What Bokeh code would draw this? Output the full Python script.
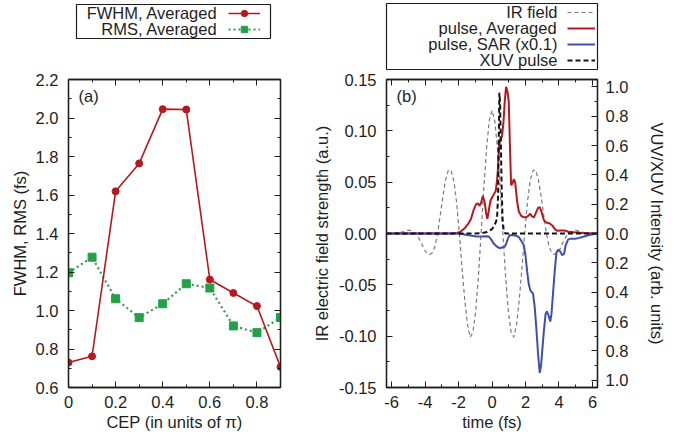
import numpy as np
from bokeh.plotting import figure
from bokeh.models import (Range1d, LinearAxis, FixedTicker, Label, Legend, LegendItem,
                          BoxAnnotation)
from bokeh.layouts import row, column
from bokeh.core.properties import value
from bokeh.embed import file_html
from bokeh.resources import INLINE

# ---------------- data: panel (a) ----------------
cep = [0.0, 0.1, 0.2, 0.3, 0.4, 0.5, 0.6, 0.7, 0.8, 0.9]
fwhm = [0.730, 0.762, 1.619, 1.764, 2.046, 2.044, 1.161, 1.091, 1.023, 0.707]
rms = [1.196, 1.277, 1.061, 0.963, 1.035, 1.139, 1.117, 0.920, 0.885, 0.963]

cep_ticks = [0.0, 0.2, 0.4, 0.6, 0.8]
cep_labels = ["0", "0.2", "0.4", "0.6", "0.8"]
cep_minor = [0.1, 0.3, 0.5, 0.7, 0.9]
dur_ticks = [0.6, 0.8, 1.0, 1.2, 1.4, 1.6, 1.8, 2.0, 2.2]
dur_labels = ["0.6", "0.8", "1.0", "1.2", "1.4", "1.6", "1.8", "2.0", "2.2"]
dur_minor = [0.7, 0.9, 1.1, 1.3, 1.5, 1.7, 1.9, 2.1]

# ---------------- data: panel (b) ----------------
ir_t = [-6.3, -5.9, -5.5, -5.2, -5.038, -4.875, -4.713, -4.55, -4.388, -4.225, -4.063, -3.9,
        -3.738, -3.575, -3.413, -3.25, -3.088, -2.925, -2.763, -2.6, -2.438, -2.275, -2.113,
        -1.95, -1.788, -1.625, -1.463, -1.3, -1.138, -0.975, -0.813, -0.65, -0.488, -0.325,
        -0.163, 0.0, 0.163, 0.325, 0.488, 0.65, 0.813, 0.975, 1.138, 1.3, 1.463, 1.625, 1.788,
        1.95, 2.113, 2.275, 2.438, 2.6, 2.763, 2.925, 3.088, 3.25, 3.413, 3.575, 3.738, 3.9,
        4.063, 4.225, 4.388, 4.55, 4.713, 4.875, 5.038, 5.2, 5.5, 5.9, 6.3]
ir_field = [0.0, 0.0, 0.001, 0.002, 0.003, 0.003, 0.002, 0.0, -0.004, -0.009, -0.015, -0.019,
            -0.0205, -0.019, -0.013, 0.0, 0.018, 0.037, 0.053, 0.062, 0.061, 0.051, 0.030,
            0.0, -0.034, -0.065, -0.089, -0.101, -0.096, -0.076, -0.042, 0.0, 0.044, 0.083,
            0.110, 0.120, 0.110, 0.083, 0.044, 0.0, -0.042, -0.076, -0.096, -0.101, -0.089,
            -0.065, -0.034, 0.0, 0.030, 0.051, 0.061, 0.062, 0.053, 0.037, 0.018, 0.0, -0.013,
            -0.019, -0.0205, -0.019, -0.015, -0.009, -0.004, 0.0, 0.002, 0.003, 0.003, 0.002,
            0.001, 0.0, 0.0]

avg_t = [-6.3, -2.5, -2.1, -1.9, -1.6, -1.4, -1.25, -1.1, -0.95, -0.85, -0.75, -0.65, -0.55,
         -0.45, -0.35, -0.28, -0.2, -0.1, 0.0, 0.1, 0.22, 0.3, 0.36, 0.42, 0.5, 0.6, 0.68, 0.76,
         0.84, 0.92, 1.0, 1.07, 1.14, 1.22, 1.3, 1.38, 1.5, 1.6, 1.75, 1.9, 2.05, 2.2, 2.28, 2.4,
         2.5, 2.62, 2.75, 2.85, 2.95, 3.1, 3.25, 3.45, 3.6, 3.75, 3.9, 4.1, 4.35, 4.55, 4.9, 5.4,
         6.3]
avg_int = [0.0, 0.0, 0.003, 0.01, 0.04, 0.07, 0.1, 0.16, 0.2, 0.205, 0.19, 0.21, 0.255, 0.22,
           0.14, 0.1, 0.15, 0.22, 0.245, 0.265, 0.29, 0.36, 0.45, 0.6, 0.64, 0.665, 0.75, 0.9,
           1.0, 0.97, 0.9, 0.6, 0.33, 0.34, 0.37, 0.35, 0.22, 0.15, 0.12, 0.11, 0.11, 0.125,
           0.135, 0.115, 0.11, 0.14, 0.175, 0.18, 0.15, 0.09, 0.075, 0.068, 0.055, 0.03, 0.018,
           0.02, 0.02, 0.012, 0.008, 0.004, 0.0]

sar_t = [-6.3, -2.2, -1.8, -1.5, -1.2, -0.9, -0.6, -0.35, -0.2, -0.05, 0.1, 0.3, 0.45, 0.6,
         0.75, 0.85, 0.95, 1.05, 1.2, 1.45, 1.6, 1.75, 1.9, 2.0, 2.1, 2.2, 2.3, 2.45, 2.55, 2.65,
         2.75, 2.85, 2.93, 3.0, 3.1, 3.2, 3.28, 3.38, 3.48, 3.55, 3.65, 3.75, 3.85, 3.95, 4.05,
         4.2, 4.3, 4.4, 4.55, 4.7, 5.0, 5.2, 5.5, 5.8, 6.3]
sar_int = [0.0, 0.0, 0.003, 0.01, 0.015, 0.02, 0.02, 0.018, 0.02, 0.04, 0.068, 0.09, 0.1, 0.095,
           0.09, 0.07, 0.035, 0.012, 0.01, 0.015, 0.025, 0.05, 0.08, 0.15, 0.26, 0.35, 0.39,
           0.41, 0.5, 0.65, 0.82, 0.95, 0.9, 0.8, 0.66, 0.55, 0.53, 0.56, 0.6, 0.55, 0.4, 0.25,
           0.13, 0.11, 0.12, 0.148, 0.14, 0.08, 0.04, 0.035, 0.035, 0.03, 0.02, 0.01, 0.0]

xuv_t = [-6.3, -1.0, -0.6, -0.3, 0.0, 0.15, 0.3, 0.36, 0.4, 0.44, 0.48, 0.53, 0.58, 0.63, 0.7,
         0.8, 6.3]
xuv_int = [0.0, 0.0, 0.003, 0.01, 0.03, 0.055, 0.1, 0.25, 0.6, 0.96, 0.9, 0.6, 0.3, 0.1, 0.02,
           0.0, 0.0]

time_ticks = [-6, -4, -2, 0, 2, 4, 6]
time_labels = ["-6", "-4", "-2", "0", "2", "4", "6"]
time_minor = [-5, -3, -1, 1, 3, 5]
field_ticks = [-0.15, -0.1, -0.05, 0.0, 0.05, 0.1, 0.15]
field_labels = ["-0.15", "-0.10", "-0.05", "0.00", "0.05", "0.10", "0.15"]
field_minor = [-0.125, -0.075, -0.025, 0.025, 0.075, 0.125]
int_ticks = [-1.0, -0.8, -0.6, -0.4, -0.2, 0.0, 0.2, 0.4, 0.6, 0.8, 1.0]
int_labels = ["1.0", "0.8", "0.6", "0.4", "0.2", "0.0", "0.2", "0.4", "0.6", "0.8", "1.0"]
int_minor = [-0.9, -0.7, -0.5, -0.3, -0.1, 0.1, 0.3, 0.5, 0.7, 0.9]

legend_a = ["FWHM, Averaged", "RMS, Averaged"]
legend_b = ["IR field", "pulse, Averaged", "pulse, SAR (x0.1)", "XUV pulse"]

# ---------------- style ----------------
FONT = "Liberation Sans"
FS = "16.5px"
INK = "#1e1e1e"
RED = "#b5191f"
GREEN = "#25a04a"
BLUE = "#3f4fae"
GRAY = "#7a7a7a"
BLACK = "#111111"

RED_LINE = dict(line_color=RED, line_width=1.6)
RED_DOT = dict(marker="circle", size=7, color=RED)
GREEN_LINE = dict(line_color=GREEN, line_width=2.2, line_dash="2 3")
GREEN_DOT = dict(marker="square", size=8, color=GREEN)
IR_LINE = dict(line_color=GRAY, line_width=1.2, line_dash="4 3")
AVG_LINE = dict(line_color=RED, line_width=2)
SAR_LINE = dict(line_color=BLUE, line_width=2)
XUV_LINE = dict(line_color=BLACK, line_width=2, line_dash="5 3")


def style_axis(ax, ticks, labels, minor, show=True):
    ax.ticker = FixedTicker(ticks=ticks, minor_ticks=minor)
    ax.major_tick_in = 6
    ax.major_tick_out = 0
    ax.minor_tick_in = 3
    ax.minor_tick_out = 0
    ax.axis_line_color = INK
    ax.axis_line_width = 1.3
    ax.major_tick_line_color = INK
    ax.minor_tick_line_color = INK
    ax.axis_label_text_font = FONT
    ax.axis_label_text_font_size = FS
    ax.axis_label_text_font_style = "normal"
    ax.axis_label_text_color = INK
    ax.major_label_text_font = FONT
    ax.major_label_text_color = INK
    if show:
        ax.major_label_text_font_size = FS
        ax.major_label_overrides = {t: l for t, l in zip(ticks, labels)}
    else:
        ax.major_label_text_font_size = "0px"
        ax.major_label_standoff = 0
        ax.major_label_overrides = {t: "" for t in ticks}


def key_figure(width, height, left, right, top, bottom, outline=True):
    # small figure holding the key; its data view is kept far away from the data
    # so the series drawn here only feed the key samples
    f = figure(width=width, height=height, x_range=Range1d(100, 101),
               y_range=Range1d(100, 101), x_axis_type=None, y_axis_type=None,
               toolbar_location=None, output_backend="svg",
               min_border_left=left, min_border_right=right,
               min_border_top=top, min_border_bottom=bottom,
               outline_line_color=INK if outline else None, outline_line_width=1.2)
    return f


def key_texts(fig, x, ys, names):
    for y, name in zip(ys, names):
        fig.add_layout(Label(x=x, y=y, x_units="screen", y_units="screen", text=name,
                             text_align="right", text_baseline="middle", text_font=FONT,
                             text_font_size=FS, text_color=INK))


def key_glyphs(fig, items, x, y, gw, spacing):
    lg = Legend(items=[LegendItem(label=value(""), renderers=rr) for rr in items],
                location=(x, y), orientation="vertical", padding=0, margin=0,
                spacing=spacing, glyph_width=gw, glyph_height=16, label_width=0,
                label_height=16, label_standoff=0, border_line_alpha=0,
                background_fill_alpha=0)
    fig.add_layout(lg)


# ---------------- panel (a) ----------------
keyA = key_figure(300, 40, 68, 20, 3, 1, outline=False)
keyA.add_layout(BoxAnnotation(left=8, right=202, top=35, bottom=1,
                              left_units="screen", right_units="screen",
                              top_units="screen", bottom_units="screen",
                              fill_alpha=0, line_color=INK, line_width=1.2, line_alpha=1))
ka1 = keyA.line(cep, fwhm, **RED_LINE)
ka1m = keyA.scatter(cep, fwhm, **RED_DOT)
ka2 = keyA.line(cep, rms, **GREEN_LINE)
ka2m = keyA.scatter(cep, rms, **GREEN_DOT)
key_glyphs(keyA, [[ka1, ka1m], [ka2, ka2m]], 160, 2.5, 32, 0)
key_texts(keyA, 149, [26.5, 10.5], legend_a)

pA = figure(width=300, height=400, x_range=Range1d(0.0, 0.9), y_range=Range1d(0.6, 2.2),
            toolbar_location=None, output_backend="svg",
            min_border_left=68, min_border_right=20, min_border_top=39,
            min_border_bottom=53, outline_line_color=INK, outline_line_width=1.3)
pA.grid.visible = False
pA.line(cep, rms, **GREEN_LINE)
pA.scatter(cep, rms, **GREEN_DOT)
pA.line(cep, fwhm, **RED_LINE)
pA.scatter(cep, fwhm, **RED_DOT)

pA.xaxis.axis_label = "CEP (in units of π)"
pA.yaxis.axis_label = "FWHM, RMS (fs)"
style_axis(pA.xaxis[0], cep_ticks, cep_labels, cep_minor)
style_axis(pA.yaxis[0], dur_ticks, dur_labels, dur_minor)
pA.xaxis.major_label_standoff = 8
pA.xaxis.axis_label_standoff = 2
pA.yaxis.major_label_standoff = 10
pA.yaxis.axis_label_standoff = 4
topA = LinearAxis()
style_axis(topA, cep_ticks, cep_labels, cep_minor, show=False)
pA.add_layout(topA, "above")
rightA = LinearAxis()
style_axis(rightA, dur_ticks, dur_labels, dur_minor, show=False)
pA.add_layout(rightA, "right")
pA.add_layout(Label(x=10, y=301, x_units="screen", y_units="screen", text="(a)",
                    text_baseline="top", text_font=FONT, text_font_size=FS, text_color=INK))

# ---------------- panel (b) ----------------
keyB = key_figure(382, 70, 86, 85, 3, 1)
kb1 = keyB.line(ir_t, ir_field, **IR_LINE)
kb2 = keyB.line(avg_t, avg_int, **AVG_LINE)
kb3 = keyB.line(sar_t, sar_int, **SAR_LINE)
kb4 = keyB.line(xuv_t, xuv_int, **XUV_LINE)
key_glyphs(keyB, [[kb1], [kb2], [kb3], [kb4]], 181, 1.5, 28, 0)
key_texts(keyB, 171, [57.5, 41.5, 25.5, 9.5], legend_b)

pB = figure(width=382, height=370, x_range=Range1d(-6.3, 6.3), y_range=Range1d(-0.15, 0.15),
            toolbar_location=None, output_backend="svg",
            min_border_left=86, min_border_right=85, min_border_top=9,
            min_border_bottom=53, outline_line_color=INK, outline_line_width=1.3)
pB.extra_y_ranges = {"int": Range1d(-1.05, 1.05)}
pB.grid.visible = False
pB.line(ir_t, ir_field, **IR_LINE)
pB.line(avg_t, avg_int, y_range_name="int", **AVG_LINE)
pB.line(sar_t, -np.array(sar_int), y_range_name="int", **SAR_LINE)
pB.line(xuv_t, xuv_int, y_range_name="int", **XUV_LINE)

pB.xaxis.axis_label = "time (fs)"
pB.yaxis.axis_label = "IR electric field strength (a.u.)"
style_axis(pB.xaxis[0], time_ticks, time_labels, time_minor)
style_axis(pB.yaxis[0], field_ticks, field_labels, field_minor)
pB.xaxis.major_label_standoff = 8
pB.xaxis.axis_label_standoff = 2
pB.yaxis.major_label_standoff = 10
pB.yaxis.axis_label_standoff = 5
rightB = LinearAxis(y_range_name="int", axis_label="VUV/XUV Intensity (arb. units)")
style_axis(rightB, int_ticks, int_labels, int_minor)
rightB.major_label_standoff = 8
rightB.axis_label_standoff = 17
pB.add_layout(rightB, "right")
topB = LinearAxis()
style_axis(topB, time_ticks, time_labels, time_minor, show=False)
pB.add_layout(topB, "above")
pB.add_layout(Label(x=10, y=301, x_units="screen", y_units="screen", text="(b)",
                    text_baseline="top", text_font=FONT, text_font_size=FS, text_color=INK))

layout = row(column(keyA, pA), column(keyB, pB))
open("out.html", "w").write(file_html(layout, INLINE))
